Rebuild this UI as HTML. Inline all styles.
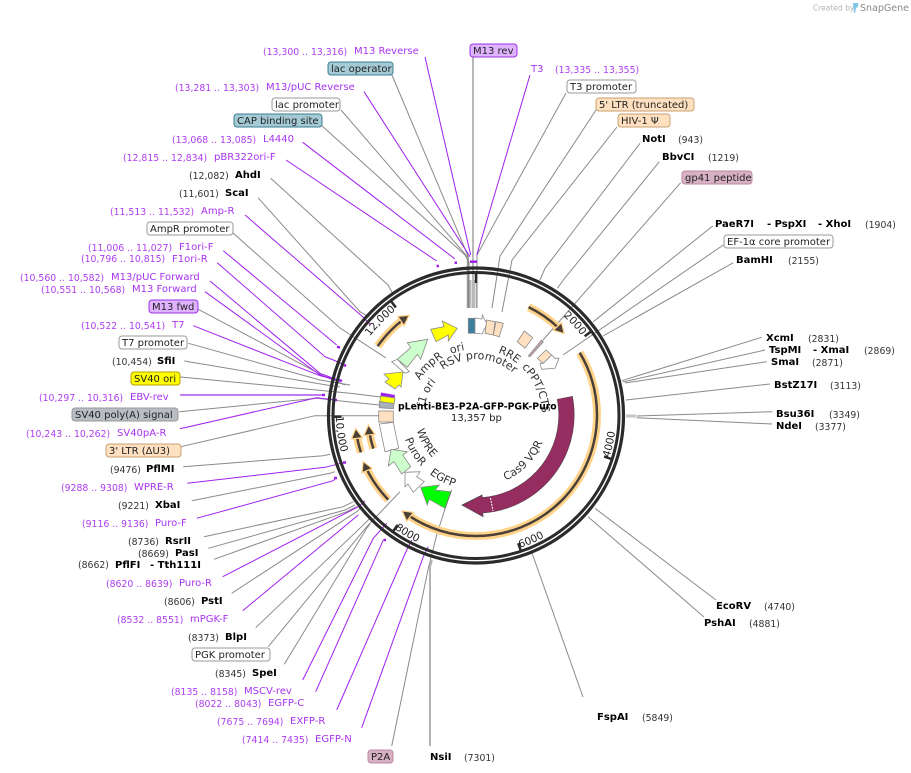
<!DOCTYPE html>
<html><head><meta charset="utf-8"><style>
html,body{margin:0;padding:0;background:#fff}
svg{display:block}
text{font-family:"DejaVu Sans","Liberation Sans",sans-serif;font-size:10px;fill:#222}
.p{fill:#a833f0}.pr{fill:#ad3df0;font-size:9.3px}.k{fill:#333;font-size:9.3px}
.b{font-weight:bold;fill:#000}
.g{fill:none;stroke:#8a8a8a;stroke-width:1}
.v{fill:none;stroke:#a020f0;stroke-width:1}
.m{fill:none;stroke:#a020f0;stroke-width:2.5}
.i{font-size:11px;fill:#333}
.t{font-size:10.5px;fill:#222}
</style></head><body>
<svg width="911" height="773" viewBox="0 0 911 773" xmlns="http://www.w3.org/2000/svg">
<defs>
<path id="t132" d="M344 415A132 132 0 0 1 608 415"/>
<path id="t52" d="M424 415A52 52 0 0 1 528 415"/>
<path id="t56" d="M420 415A56 56 0 0 1 532 415"/>
<path id="t66" d="M410 415A66 66 0 0 1 542 415"/>
<path id="b140" d="M336 415A140 140 0 0 0 616 415"/>
<path id="b72" d="M404 415A72 72 0 0 0 548 415"/>
<path id="b75" d="M401 415A75 75 0 0 0 551 415"/>
<path id="b61" d="M415 415A61 61 0 0 0 537 415"/>
</defs>

<!-- logo -->
<text x="813" y="10.500" style="font-size:7.500px;fill:#b5b5b5">Created by</text>
<path d="M853 3h5c1 3-1 5-2 5l-1 5h-1z" fill="#7ec8ea"/>
<text x="860" y="11" style="font-size:9.5px;fill:#8a8a8a">SnapGene</text>

<!-- gray connectors -->
<g class="g">
<path d="M392 75L468.300 256.700V308"/>
<path d="M341 110L467.300 256.700V308"/>
<path d="M321 125L465 255L469 262V308"/>
<path d="M566 93L477 255V308"/>
<path d="M596 110L500 256L492 308"/>
<path d="M617 127L512 260L502 312"/>
<path d="M270.700 178.300L388 285L393 294"/>
<path d="M258 197.700L360 311.700L369 317"/>
<path d="M233 233L340 328L386 358"/>
<path d="M198.300 309.300L325 376.700L345 385"/>
<path d="M188.300 343.300L320 380L350 385"/>
<path d="M184.300 361L326.700 385L340 387"/>
<path d="M180.700 377L350 393.300L381 397"/>
<path d="M179.300 411.700L316.700 398.300L350 402L379 405"/>
<path d="M180.700 446.700L315 415.700H379"/>
<path d="M183.300 466.700L323.300 455.700L330 454.300"/>
<path d="M191.700 500.700L330 473.300L335 471.700"/>
<path d="M204 536.700L343.300 506.700L353.300 501.700"/>
<path d="M208.300 548.300L345 510L355 505"/>
<path d="M214 559.300L346.700 511.700L356.700 506.700"/>
<path d="M231.700 593.300L356.700 511.700L361.700 506.700"/>
<path d="M255.700 627.700L366.700 521.700L370 518"/>
<path d="M268.300 646.700L366.700 526.700L400 491.700"/>
<path d="M284.300 664.300L366.700 528.300L370 524"/>
<path d="M391.700 746L428.300 568.300L436.700 535L444 512"/>
<path d="M532 553L583 697"/>
<path d="M588 516.700L704 617"/>
<path d="M595 508.300L716 600"/>
<path d="M640 143.300L545 268.300L540 280"/>
<path d="M659.300 161.700L563.300 280L557.300 288.300"/>
<path d="M680.700 182.700L543 340"/>
<path d="M712.700 226L593.300 321.700"/>
<path d="M723.300 245L563 355"/>
<path d="M733.300 262.700L603 336"/>
<path d="M761.700 337.300L621.700 380.700"/>
<path d="M765 350L623 382"/>
<path d="M766.700 361.700L625 383"/>
<path d="M770 384L626 400"/>
<path d="M772.300 411.700L636.700 416"/>
<path d="M772 424L636.700 417.700"/>
</g>
<path d="M473 57V308" fill="none" stroke="#b8b8b8" stroke-width="2"/>
<path d="M430 746V567L432 560" fill="none" stroke="#b4b4b4" stroke-width="2"/>
<path d="M626 416H636" fill="none" stroke="#c4c4c4" stroke-width="3"/>
<path d="M470 280V308M471 280V308M474.500 280V308M476 280V308" stroke="#bbb" stroke-width="1" fill="none"/>

<!-- purple connectors -->
<g class="v">
<path d="M425 57L470.700 255"/>
<path d="M530 75L476.700 255"/>
<path d="M364 91.700L470 256.700"/>
<path d="M302.700 142.300L455 259"/>
<path d="M286 160L436.700 261"/>
<path d="M245 215L363 317L370.700 325"/>
<path d="M223.300 250.700L336.700 345"/>
<path d="M217.300 262.700L325 356.700L333.300 360L345 365"/>
<path d="M210 281L320 373.300L340 380.700"/>
<path d="M205 291.700L320 375L340 381"/>
<path d="M193.300 325.700L320 375.700L336.700 380"/>
<path d="M180 428.700L316.700 397.700L336.700 400"/>
<path d="M187.300 483.300L325 467.300L345 462.300"/>
<path d="M196.700 518.300L333.300 480.700L335.700 478"/>
<path d="M222.700 576.700L358.300 506.700L365 500.700"/>
<path d="M242.700 610.700L358.300 515"/>
<path d="M302.700 680L373.300 538.300L386.700 523.300"/>
<path d="M315.700 691.700L383.300 540L385 540"/>
<path d="M336.700 710L406.700 550L411.700 540"/>
<path d="M361.700 727.700L423.300 556.700L428.300 546.700"/>
</g>
<path d="M180 395H323" fill="none" stroke="#c27df5" stroke-width="2"/>
<g class="m">
<path d="M470 261.700H477"/>
<path d="M454.500 262.700H457"/>
<path d="M436.500 266H439"/>
<path d="M337 346.700L340 347.500"/>
<path d="M344 365L346 366"/>
<path d="M338 380L342 381"/>
<path d="M322 395H325"/>
<path d="M335 400H337"/>
<path d="M343 462.500H346"/>
<path d="M334 478H337"/>
<path d="M384 540H386"/>
</g>

<!-- ring -->
<circle cx="476" cy="415.500" r="147.500" fill="none" stroke="#2b2b2b" stroke-width="3.200"/>
<circle cx="476" cy="415.500" r="143" fill="none" stroke="#2b2b2b" stroke-width="3"/>
<!-- ticks -->
<g stroke="#2b2b2b" stroke-width="2.500">
<path d="M476 273V283"/>
<path d="M476 273V281" transform="rotate(53.900 476 415.500)"/>
<path d="M476 273V281" transform="rotate(107.800 476 415.500)"/>
<path d="M476 273V281" transform="rotate(161.700 476 415.500)"/>
<path d="M476 273V281" transform="rotate(215.600 476 415.500)"/>
<path d="M476 273V281" transform="rotate(269.500 476 415.500)"/>
<path d="M476 273V281" transform="rotate(323.400 476 415.500)"/>
</g>
<text class="t" transform="rotate(53 476 415)"><textPath href="#t132" startOffset="50%" text-anchor="end">2000</textPath></text>
<text class="t" transform="rotate(322.500 476 415)"><textPath href="#t132" startOffset="50%" text-anchor="end">12,000</textPath></text>
<text class="t" transform="rotate(-72.200 476 415)"><textPath href="#b140" startOffset="50%">4000</textPath></text>
<text class="t" transform="rotate(-18.300 476 415)"><textPath href="#b140" startOffset="50%">6000</textPath></text>
<text class="t" transform="rotate(35.600 476 415)"><textPath href="#b140" startOffset="50%">8000</textPath></text>
<text class="t" transform="rotate(89.500 476 415)"><textPath href="#b140" startOffset="50%">10,000</textPath></text>

<!-- orange arcs -->
<g fill="none" transform="rotate(-90 476 415)">
<g stroke="#ffd38a" stroke-width="8">
<circle cx="476" cy="415" r="120" pathLength="360" stroke-dasharray="17 360" stroke-dashoffset="-26"/>
<circle cx="476" cy="415" r="121" pathLength="360" stroke-dasharray="155 360" stroke-dashoffset="-59"/>
<circle cx="476" cy="415" r="122" pathLength="360" stroke-dasharray="18 360" stroke-dashoffset="-226"/>
<circle cx="476" cy="415" r="108" pathLength="360" stroke-dasharray="9 360" stroke-dashoffset="-252"/>
<circle cx="476" cy="415" r="121" pathLength="360" stroke-dasharray="8 360" stroke-dashoffset="-252"/>
<circle cx="476" cy="415" r="120" pathLength="360" stroke-dasharray="17 360" stroke-dashoffset="-305"/>
</g>
<g stroke="#4a4038" stroke-width="2.500">
<circle cx="476" cy="415" r="120" pathLength="360" stroke-dasharray="17 360" stroke-dashoffset="-26"/>
<circle cx="476" cy="415" r="121" pathLength="360" stroke-dasharray="155 360" stroke-dashoffset="-59"/>
<circle cx="476" cy="415" r="122" pathLength="360" stroke-dasharray="18 360" stroke-dashoffset="-226"/>
<circle cx="476" cy="415" r="108" pathLength="360" stroke-dasharray="9 360" stroke-dashoffset="-252"/>
<circle cx="476" cy="415" r="121" pathLength="360" stroke-dasharray="8 360" stroke-dashoffset="-252"/>
<circle cx="476" cy="415" r="120" pathLength="360" stroke-dasharray="17 360" stroke-dashoffset="-305"/>
</g>
</g>
<g fill="#4a4038" stroke="#ffd38a" stroke-width="2.500" paint-order="stroke">
<polygon points="476,295 468,290.500 468,299.500" transform="rotate(46.700 476 415)"/>
<polygon points="476,294 468,289.500 468,298.500" transform="rotate(217 476 415)"/>
<polygon points="476,293 468,288.500 468,297.500" transform="rotate(247 476 415)"/>
<polygon points="476,307 468,302.500 468,311.500" transform="rotate(264 476 415)"/>
<polygon points="476,294 468,289.500 468,298.500" transform="rotate(263 476 415)"/>
<polygon points="476,295 468,290.500 468,299.500" transform="rotate(325.500 476 415)"/>
</g>

<!-- Cas9 -->
<g fill="none" transform="rotate(-90 476 415)">
<circle cx="476" cy="415" r="90.500" pathLength="360" stroke="#444" stroke-width="16" stroke-dasharray="97 360" stroke-dashoffset="-79"/>
<circle cx="476" cy="415" r="90.500" pathLength="360" stroke="#962d61" stroke-width="15" stroke-dasharray="96.500 360" stroke-dashoffset="-79.200"/>
</g>
<polygon points="482,495 483,516.700 462,505" fill="#962d61" stroke="#444" stroke-width="0.700"/>
<rect x="480" y="498" width="7" height="14" fill="#962d61"/>
<path d="M490.500 498L493 511" stroke="#fff" stroke-width="1" stroke-dasharray="2 1"/>

<!-- features -->
<g stroke="#8a8a8a" stroke-width="0.800">
<polygon points="457.300,328.300 442.300,321 444,326.700 430.700,329.300 436,341.700 448.300,335 448.300,341" fill="#ffff00"/>
<polygon points="427.700,339.300 407.300,342.700 410.700,347.700 397.300,359.300 407.300,367.300 417.300,354.300 420.700,359.300" fill="#ccffcc"/>
<polygon points="391.700,361.700 397.300,359.300 409.300,371.700 405,373.300" fill="#fff"/>
<polygon points="403,372 384,374 389,379 385,382 395,389 399,385 401,387" fill="#ffff00"/>
<polygon points="381,392.500 395,395 394.500,398 380.500,396" fill="#a020f0" stroke="none"/>
<polygon points="380.500,396 395,398 394,404 380,401.500" fill="#ffff00"/>
<polygon points="379.300,401.700 394,403.500 393.300,408.700 379.300,407.700" fill="#aab0b8"/>
<rect x="378.700" y="411" width="14.600" height="11" fill="#ffe0c0"/>
<polygon points="379.300,424 393.300,422.300 398.700,448.300 385,451.700" fill="#fff"/>
<polygon points="391,449.300 388.300,466 394,461.700 401.700,474 410.700,466.700 402.700,455 407.300,451.700" fill="#ccffcc"/>
<polygon points="405,472.300 405,486.700 408,484 413.300,492.300 424.300,481.700 416.700,476.700 420,471.700" fill="#fff"/>
<polygon points="420.700,487.300 427.300,505 429.300,499.300 445,508.300 450.700,491.700 435,490 439.300,485" fill="#00ff00"/>
<path d="M451.700 490L444 511.700" fill="none" stroke="#666"/>
<rect x="468.300" y="318.300" width="6.700" height="15" fill="#3a7f9e"/>
<polygon points="475,318 482,319 482.300,315 487,324 482,334 475,333.300" fill="#fff"/>
<polygon points="486.700,320 495,321.700 493.300,335 485,333.300" fill="#ffe0c0"/>
<polygon points="496,321.700 503.300,323.300 499.300,336.700 493.300,335" fill="#ffe0c0"/>
<polygon points="524.300,331 532.700,337.700 525,348.300 517.300,341.700" fill="#ffe0c0"/>
<polygon points="541.700,340 543.300,341.700 530,356.700 528.300,356" fill="#d0a0b8"/>
<polygon points="546,350 551.700,355 543.300,363.300 537.300,358.300" fill="#ffe0c0"/>
<polygon points="551.700,355 555,358.300 559,358.300 555,368.300 541.700,369.300 540,363.300 543.300,363.300" fill="#fff"/>
</g>

<!-- inner labels -->
<text class="i" transform="rotate(-16 476 415)"><textPath href="#t66" startOffset="50%" text-anchor="middle">ori</textPath></text>
<text class="i" transform="rotate(-44 476 415)"><textPath href="#t66" startOffset="50%" text-anchor="middle">AmpR</textPath></text>
<text class="i" transform="rotate(-66 476 415)"><textPath href="#t52" startOffset="50%" text-anchor="middle">f1 ori</textPath></text>
<text class="i" transform="rotate(3 476 415)"><textPath href="#t56" startOffset="50%" text-anchor="middle">RSV promoter</textPath></text>
<text class="i" transform="rotate(29 476 415)"><textPath href="#t66" startOffset="50%" text-anchor="middle">RRE</textPath></text>
<text class="i" transform="rotate(66 476 415)"><textPath href="#t66" startOffset="50%" text-anchor="middle">cPPT/CTS</textPath></text>
<text class="i" transform="rotate(-46 476 415)"><textPath href="#b72" startOffset="50%" text-anchor="middle">Cas9 VQR</textPath></text>
<text class="i" transform="rotate(60.700 476 415)"><textPath href="#b61" startOffset="50%" text-anchor="middle">WPRE</textPath></text>
<text class="i" transform="rotate(59 476 415)"><textPath href="#b75" startOffset="50%" text-anchor="middle">PuroR</textPath></text>
<text class="i" transform="rotate(27.600 476 415)"><textPath href="#b75" startOffset="50%" text-anchor="middle">EGFP</textPath></text>

<text x="398" y="409.500" class="b" style="font-size:9.300px">pLenti-BE3-P2A-GFP-PGK-Puro</text>
<text x="451" y="421" style="font-size:10px">13,357 bp</text>

<!-- boxes -->
<g stroke-width="1">
<rect x="470" y="44" width="47" height="13" rx="3" fill="#e0b3ff" stroke="#9a30e0"/>
<rect x="328" y="62" width="65" height="13" rx="3" fill="#a4cad6" stroke="#3a7f92"/>
<rect x="567" y="80" width="69" height="13" rx="3" fill="#fff" stroke="#999"/>
<rect x="272" y="98" width="68" height="13" rx="3" fill="#fff" stroke="#999"/>
<rect x="596" y="98" width="98" height="13" rx="3" fill="#ffe0c0" stroke="#c8a070"/>
<rect x="234" y="114" width="88" height="13" rx="3" fill="#a4cad6" stroke="#3a7f92"/>
<rect x="618" y="114" width="52" height="13" rx="3" fill="#ffe0c0" stroke="#c8a070"/>
<rect x="682" y="171" width="70" height="13" rx="3" fill="#d8b0c4" stroke="#b88aa0"/>
<rect x="147" y="222" width="86" height="13" rx="3" fill="#fff" stroke="#999"/>
<rect x="724" y="235" width="109" height="13" rx="3" fill="#fff" stroke="#999"/>
<rect x="149" y="300" width="49" height="13" rx="3" fill="#e0b3ff" stroke="#9a30e0"/>
<rect x="119" y="336" width="68" height="13" rx="3" fill="#fff" stroke="#999"/>
<rect x="131" y="372" width="49" height="13" rx="3" fill="#ffff00" stroke="#b0a000"/>
<rect x="72" y="408" width="106" height="13" rx="3" fill="#b8bcc4" stroke="#999"/>
<rect x="106" y="444" width="75" height="13" rx="3" fill="#ffe0c0" stroke="#c8a070"/>
<rect x="192" y="648" width="78" height="13" rx="3" fill="#fff" stroke="#999"/>
<rect x="368" y="750" width="25" height="13" rx="3" fill="#d8b0c4" stroke="#b88aa0"/>
</g>
<text x="473" y="54">M13 rev</text>
<text x="331" y="72">lac operator</text>
<text x="570" y="90">T3 promoter</text>
<text x="275" y="108">lac promoter</text>
<text x="599" y="108">5' LTR (truncated)</text>
<text x="237" y="124">CAP binding site</text>
<text x="621" y="124">HIV-1 Ψ</text>
<text x="685" y="181">gp41 peptide</text>
<text x="150" y="232">AmpR promoter</text>
<text x="727" y="245">EF-1α core promoter</text>
<text x="152" y="310">M13 fwd</text>
<text x="122" y="346">T7 promoter</text>
<text x="134" y="382">SV40 ori</text>
<text x="75" y="418">SV40 poly(A) signal</text>
<text x="109" y="454">3' LTR (ΔU3)</text>
<text x="195" y="658">PGK promoter</text>
<text x="371" y="760">P2A</text>

<!-- purple labels -->
<text x="263" y="55" class="pr">(13,300 .. 13,316)</text><text x="354" y="54" class="p">M13 Reverse</text>
<text x="531" y="72" class="p">T3</text><text x="555" y="73" class="pr">(13,335 .. 13,355)</text>
<text x="175" y="91" class="pr">(13,281 .. 13,303)</text><text x="266" y="90" class="p">M13/pUC Reverse</text>
<text x="172" y="143" class="pr">(13,068 .. 13,085)</text><text x="263" y="142" class="p">L4440</text>
<text x="123" y="161" class="pr">(12,815 .. 12,834)</text><text x="214" y="160" class="p">pBR322ori-F</text>
<text x="110" y="215" class="pr">(11,513 .. 11,532)</text><text x="201" y="214" class="p">Amp-R</text>
<text x="88" y="251" class="pr">(11,006 .. 11,027)</text><text x="179" y="250" class="p">F1ori-F</text>
<text x="81" y="262" class="pr">(10,796 .. 10,815)</text><text x="172" y="262" class="p">F1ori-R</text>
<text x="20" y="281" class="pr">(10,560 .. 10,582)</text><text x="111" y="280" class="p">M13/pUC Forward</text>
<text x="41" y="293" class="pr">(10,551 .. 10,568)</text><text x="132" y="292" class="p">M13 Forward</text>
<text x="81" y="329" class="pr">(10,522 .. 10,541)</text><text x="172" y="328" class="p">T7</text>
<text x="39" y="401" class="pr">(10,297 .. 10,316)</text><text x="130" y="400" class="p">EBV-rev</text>
<text x="26" y="437" class="pr">(10,243 .. 10,262)</text><text x="117" y="436" class="p">SV40pA-R</text>
<text x="61" y="491" class="pr">(9288 .. 9308)</text><text x="134" y="490" class="p">WPRE-R</text>
<text x="82" y="527" class="pr">(9116 .. 9136)</text><text x="155" y="526" class="p">Puro-F</text>
<text x="106" y="587" class="pr">(8620 .. 8639)</text><text x="179" y="586" class="p">Puro-R</text>
<text x="117" y="623" class="pr">(8532 .. 8551)</text><text x="190" y="622" class="p">mPGK-F</text>
<text x="171" y="695" class="pr">(8135 .. 8158)</text><text x="244" y="694" class="p">MSCV-rev</text>
<text x="195" y="707" class="pr">(8022 .. 8043)</text><text x="268" y="706" class="p">EGFP-C</text>
<text x="217" y="725" class="pr">(7675 .. 7694)</text><text x="290" y="724" class="p">EXFP-R</text>
<text x="242" y="743" class="pr">(7414 .. 7435)</text><text x="315" y="742" class="p">EGFP-N</text>

<!-- enzymes -->
<text x="642" y="142" class="b">NotI</text><text x="678" y="143" class="k">(943)</text>
<text x="662" y="160" class="b">BbvCI</text><text x="708" y="161" class="k">(1219)</text>
<text x="189" y="179" class="k">(12,082)</text><text x="235" y="178" class="b">AhdI</text>
<text x="179" y="197" class="k">(11,601)</text><text x="225" y="196" class="b">ScaI</text>
<text x="715" y="227" class="b">PaeR7I</text><text x="767" y="227" class="b">- PspXI</text><text x="818" y="227" class="b">- XhoI</text><text x="865" y="228" class="k">(1904)</text>
<text x="736" y="263" class="b">BamHI</text><text x="788" y="264" class="k">(2155)</text>
<text x="766" y="341" class="b">XcmI</text><text x="808" y="342" class="k">(2831)</text>
<text x="769" y="353" class="b">TspMI</text><text x="813" y="353" class="b">- XmaI</text><text x="864" y="354" class="k">(2869)</text>
<text x="771" y="365" class="b">SmaI</text><text x="812" y="366" class="k">(2871)</text>
<text x="774" y="388" class="b">BstZ17I</text><text x="830" y="389" class="k">(3113)</text>
<text x="776" y="417" class="b">Bsu36I</text><text x="829" y="418" class="k">(3349)</text>
<text x="776" y="429" class="b">NdeI</text><text x="815" y="430" class="k">(3377)</text>
<text x="716" y="609" class="b">EcoRV</text><text x="764" y="610" class="k">(4740)</text>
<text x="704" y="626" class="b">PshAI</text><text x="749" y="627" class="k">(4881)</text>
<text x="597" y="720" class="b">FspAI</text><text x="642" y="721" class="k">(5849)</text>
<text x="430" y="760" class="b">NsiI</text><text x="464" y="761" class="k">(7301)</text>
<text x="112" y="365" class="k">(10,454)</text><text x="157" y="364" class="b">SfiI</text>
<text x="110" y="473" class="k">(9476)</text><text x="146" y="472" class="b">PflMI</text>
<text x="118" y="509" class="k">(9221)</text><text x="155" y="508" class="b">XbaI</text>
<text x="128" y="545" class="k">(8736)</text><text x="165" y="544" class="b">RsrII</text>
<text x="138" y="557" class="k">(8669)</text><text x="175" y="556" class="b">PasI</text>
<text x="78" y="568" class="k">(8662)</text><text x="115" y="568" class="b">PflFI</text><text x="150" y="568" class="b">- Tth111I</text>
<text x="164" y="605" class="k">(8606)</text><text x="201" y="604" class="b">PstI</text>
<text x="188" y="641" class="k">(8373)</text><text x="225" y="640" class="b">BlpI</text>
<text x="215" y="677" class="k">(8345)</text><text x="252" y="676" class="b">SpeI</text>
</svg>
</body></html>
